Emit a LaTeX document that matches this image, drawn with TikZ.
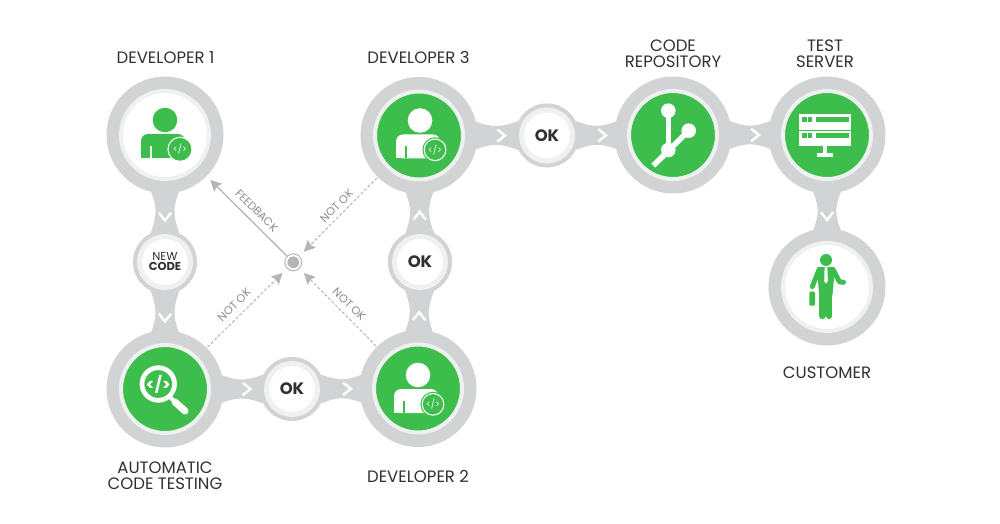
\documentclass[tikz,border=0pt]{standalone}
\usepackage{fontspec}
\setmainfont{Poppins}
\usetikzlibrary{calc}
\usetikzlibrary{arrows.meta}

\definecolor{ringgray}{HTML}{D1D3D4}
\definecolor{palegray}{HTML}{EFF1F1}
\definecolor{leafgreen}{HTML}{3DBD4B}
\definecolor{inkgray}{HTML}{2F3033}
\definecolor{wiregray}{HTML}{B4B5B7}
\definecolor{notegray}{HTML}{8A8B8D}

\tikzset{
	bigring/.style={circle,fill=ringgray,inner sep=0,minimum size=117pt},
	smallring/.style={circle,fill=ringgray,inner sep=0,minimum size=64pt},
	bigface/.style={circle,fill=#1,draw=palegray,line width=4pt,inner sep=0,minimum size=88pt},
	smallface/.style={circle,fill=white,draw=palegray,line width=5pt,inner sep=0,minimum size=51pt,text=inkgray},
	chevron/.style={draw=white,line width=2.4pt},
	caption/.style={text=inkgray,font=\fontsize{16.5}{16}\selectfont,align=center},
	oktext/.style={font=\fontsize{16.5}{16}\selectfont\bfseries},
	solidwire/.style={draw=wiregray,line width=1.3pt,-{Stealth[length=11pt,width=11pt,inset=1.5pt]}},
	dashwire/.style={draw=wiregray,line width=1pt,dash pattern=on 3pt off 2pt,-{Stealth[length=11pt,width=11pt,inset=1.5pt]}},
	wirenote/.style={text=notegray,font=\fontsize{11.2}{11}\selectfont,inner sep=0},
	codetag/.style={font=\fontsize{#1}{#1}\selectfont,inner sep=0},
}

% neck between two rings, with its chevron
\newcommand{\neck}[7][9]{%
	\coordinate (am) at ($(#2)!#4pt!(#3)$);
	\coordinate (bm) at ($(#3)!#6pt!(#2)$);
	\coordinate (ap) at ($(#2)!#4pt!#5:(#3)$);
	\coordinate (aq) at ($(#2)!#4pt!-#5:(#3)$);
	\coordinate (bp) at ($(#3)!#6pt!-#7:(#2)$);
	\coordinate (bq) at ($(#3)!#6pt!#7:(#2)$);
	\fill[ringgray] (ap) .. controls ($(ap)!.45!(bm)$) and ($(bp)!.45!(am)$) .. (bp)
		-- (bq) .. controls ($(bq)!.45!(am)$) and ($(aq)!.45!(bm)$) .. (aq) -- cycle;
	\coordinate (tip) at ($(am)!.5!(bm)!#1pt!(bm)$);
	\draw[chevron] ($(tip)!10pt!142:(bm)$) -- (tip) -- ($(tip)!10pt!-142:(bm)$);
}

% person with a code badge
\newcommand{\personicon}[5]{%
	\begin{scope}[shift={(#1)},shift={(#2)}]
		\fill[#3] (0,15) circle (12.3);
		\fill[#3,rounded corners=7pt] (-24,-23) -- (-24,1) -- (20,1) -- (20,-23) -- cycle;
		\fill[#3] (-24,-23) rectangle (20,-15);
		\fill[#4] (-15,-23) rectangle (-12.7,-11);
		\fill[#4] (15,-14.3) circle (12.6);
		\fill[#3] (15,-14.3) circle (11.4);
		\fill[#5] (15,-14.3) circle (10.2);
		\node[codetag=9,text=white] at (15,-14.3) {</>};
	\end{scope}
}

\begin{document}
\begin{tikzpicture}[x=1pt,y=1pt]
	\useasboundingbox (0,0) rectangle (1000,523);
	
	% rings
	\node[bigring] (devone) at (165,388) {};
	\node[smallring] (newcode) at (165,261) {};
	\node[bigring] (autotest) at (165,134) {};
	\node[smallring] (okbottom) at (292,134) {};
	\node[bigring] (devtwo) at (418,134.5) {};
	\node[smallring] (okmiddle) at (420,261) {};
	\node[bigring] (devthree) at (419,387.5) {};
	\node[smallring] (oktop) at (547,387.5) {};
	\node[bigring] (repo) at (673,388) {};
	\node[bigring] (server) at (827,388) {};
	\node[bigring] (customer) at (827,236) {};
	
	% necks
	\neck{devone}{newcode}{58}{14}{32}{27}
	\neck{newcode}{autotest}{32}{27}{58}{14}
	\neck{autotest}{okbottom}{58}{14}{32}{27}
	\neck{okbottom}{devtwo}{32}{27}{58}{14}
	\neck[0]{devtwo}{okmiddle}{58}{14}{32}{27}
	\neck[0]{okmiddle}{devthree}{32}{27}{58}{14}
	\neck{devthree}{oktop}{58}{14}{32}{27}
	\neck{oktop}{repo}{32}{27}{58}{14}
	\neck{repo}{server}{58}{14}{58}{14}
	\neck{server}{customer}{58}{14}{58}{14}
	
	% faces
	\node[bigface=white] at (devone) {};
	\node[bigface=leafgreen] at (autotest) {};
	\node[bigface=leafgreen] at (devtwo) {};
	\node[bigface=leafgreen] at (devthree) {};
	\node[bigface=leafgreen] at (repo) {};
	\node[bigface=leafgreen] at (server) {};
	\node[bigface=white] at (customer) {};
	\node[smallface,align=center,font=\fontsize{11.5}{11}\selectfont] at (newcode) {NEW\\[-1pt]\textbf{CODE}};
	\node[smallface,oktext] at (okbottom) {OK};
	\node[smallface,oktext] at (okmiddle) {OK};
	\node[smallface,oktext] at (oktop) {OK};
	
	% people
	\personicon{devone}{0,0}{leafgreen}{white}{leafgreen}
	\personicon{devthree}{1,0}{white}{leafgreen}{leafgreen}
	\personicon{devtwo}{0,-1.5}{white}{leafgreen}{leafgreen}
	
	% magnifier
	\begin{scope}[shift={(autotest)}]
		\draw[white,line width=4.7pt] (-6.7,5) circle (16.3);
		\draw[white,line width=4pt] (5,-8) -- (10,-13);
		\draw[white,line width=7pt,line cap=round] (10,-13) -- (20,-22);
		\node[codetag=16,text=white,font=\fontsize{16}{16}\selectfont\bfseries] at (-6.7,5) {</>};
	\end{scope}
	
	% repository branches
	\begin{scope}[shift={(repo)}]
		\draw[white,line width=4.5pt] (-4.7,24.3) -- (-4.7,-15);
		\draw[white,line width=5.5pt] (-19.7,-30.7) -- (15.7,4.3);
		\fill[white] (-4.7,24.3) circle (7.3);
		\fill[white] (15.7,4.3) circle (7.3);
		\fill[white] (-4.7,-15) circle (7.3);
	\end{scope}
	
	% server rack
	\begin{scope}[shift={(server)}]
		\fill[white] (-27.7,21) rectangle (24.3,5);
		\fill[white] (-27.7,4) rectangle (24.3,-10.7);
		\fill[white] (-3.7,-10.7) rectangle (0.3,-18.3);
		\fill[white] (-9.7,-18.3) rectangle (5.7,-22.3);
		\foreach \rowy in {13.3,-3} {
			\fill[leafgreen] (-24.7,\rowy+4.5) rectangle (-20.3,\rowy);
			\fill[leafgreen] (-19,\rowy+4.5) rectangle (-15,\rowy);
			\fill[leafgreen] (-11.3,\rowy+4.5) rectangle (21.7,\rowy);
		}
	\end{scope}
	
	% customer
	\begin{scope}[shift={(customer)}]
		\fill[leafgreen] (-1,27) circle (6);
		\fill[leafgreen,rounded corners=2pt] (-10.3,20) -- (8,20) -- (5.3,-10) -- (-7.7,-10) -- cycle;
		\draw[leafgreen,line width=6.2pt,line cap=round] (-4.6,-8) -- (-4.6,-29);
		\draw[leafgreen,line width=6.2pt,line cap=round] (2.2,-8) -- (2.2,-29);
		\draw[leafgreen,line width=5pt,line cap=round,line join=round] (-8,17) -- (-14.7,0.5);
		\draw[leafgreen,line width=5pt,line cap=round,line join=round] (6,17.5) -- (12.3,5.3) -- (16.5,4.7);
		\fill[leafgreen,rounded corners=1pt] (-17.7,-4.7) rectangle (-12,-18.7);
		\fill[white] (-2.4,19.7) -- (0.4,19.7) -- (0.8,6) -- (-1,3.3) -- (-2.8,6) -- cycle;
	\end{scope}
	
	% hub
	\node[circle,fill=wiregray,draw=white,line width=2pt,inner sep=0,minimum size=14pt] (hubdot) at (293.3,260.7) {};
	\node[circle,draw=wiregray,line width=1pt,inner sep=0,minimum size=17pt] (hub) at (293.3,260.7) {};
	
	% wires
	\draw[solidwire,shorten >=5pt] (hub) -- (devone);
	\draw[dashwire,shorten <=1pt,shorten >=6pt] (devthree) -- (hub);
	\draw[dashwire,shorten <=1pt,shorten >=6pt] (autotest) -- (hub);
	\draw[dashwire,shorten <=1pt,shorten >=6pt] (devtwo) -- (hub);
	\node[wirenote,rotate=-45] (feedback) at (256.7,312.3) {FEEDBACK};
	\node[wirenote,rotate=45] (notoktop) at (336.7,317) {NOT OK};
	\node[wirenote,rotate=45] (notokleft) at (234.3,218) {NOT OK};
	\node[wirenote,rotate=-45] (notokright) at (349.3,218.7) {NOT OK};
	
	% captions
	\node[caption] (capone) at (165.5,465.2) {DEVELOPER 1};
	\node[caption] (capthree) at (418.5,465.5) {DEVELOPER 3};
	\node[caption] (caprepo) at (673,469) {CODE\\REPOSITORY};
	\node[caption] (capserver) at (825,469) {TEST\\SERVER};
	\node[caption] (capcustomer) at (827,150) {CUSTOMER};
	\node[caption] (capauto) at (165,47) {AUTOMATIC\\CODE TESTING};
	\node[caption] (captwo) at (418,46.5) {DEVELOPER 2};
\end{tikzpicture}
\end{document}
